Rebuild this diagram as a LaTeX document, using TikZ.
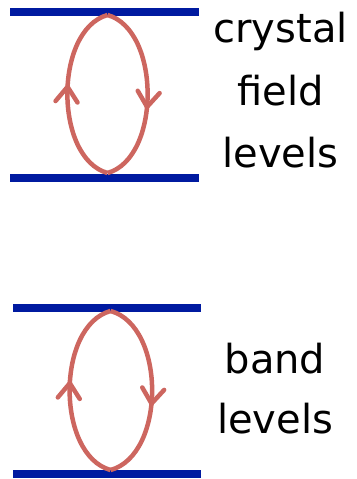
\documentclass[tikz,border=0pt]{standalone}
\usepackage{fontspec}
\setmainfont{DejaVu Sans}
\usetikzlibrary{arrows.meta,decorations.markings}
\definecolor{lvlblue}{RGB}{0,26,160}
\definecolor{loopred}{RGB}{205,102,95}
\tikzset{
  level/.style={draw=lvlblue, line width=8pt},
  loopline/.style={draw=loopred, line width=4.5pt},
  uparrow/.style={postaction={decorate}, decoration={markings,
    mark=at position #1 with {\arrow[loopred, line width=4.5pt]{Straight Barb[length=15pt, width=22pt, line cap=round, line join=round]}}}},
  lbl/.style={anchor=base, font=\fontsize{40}{48}\selectfont, inner sep=0pt}
}
\begin{document}
\begin{tikzpicture}[x=1pt, y=-1pt]
\useasboundingbox (0,0) rectangle (356,479);
% upper diagram
\coordinate (a1) at (10,12);
\coordinate (a2) at (199,12);
\coordinate (b1) at (10,178);
\coordinate (b2) at (199,178);
\coordinate (at) at (107.5,15);
\coordinate (ab) at (107.5,173);
\draw[level] (a1) -- (a2);
\draw[level] (b1) -- (b2);
\draw[loopline, uparrow=0.55] (ab) .. controls (54,158) and (54,30) .. (at);
\draw[loopline, uparrow=0.58] (at) .. controls (161,30) and (161,158) .. (ab);
\node[lbl] (t1) at (280.5,42) {crystal};
\node[lbl] (t2) at (280.5,105) {field};
\node[lbl] (t3) at (280.5,167) {levels};
% lower diagram
\coordinate (c1) at (13,308);
\coordinate (c2) at (201,308);
\coordinate (d1) at (13,474);
\coordinate (d2) at (201,474);
\coordinate (ct) at (110.5,311);
\coordinate (cb) at (110.5,470);
\draw[level] (c1) -- (c2);
\draw[level] (d1) -- (d2);
\draw[loopline, uparrow=0.55] (cb) .. controls (56,455) and (56,326) .. (ct);
\draw[loopline, uparrow=0.58] (ct) .. controls (166,326) and (166,455) .. (cb);
\node[lbl] (u1) at (275,373) {band};
\node[lbl] (u2) at (275,433) {levels};
\end{tikzpicture}
\end{document}
